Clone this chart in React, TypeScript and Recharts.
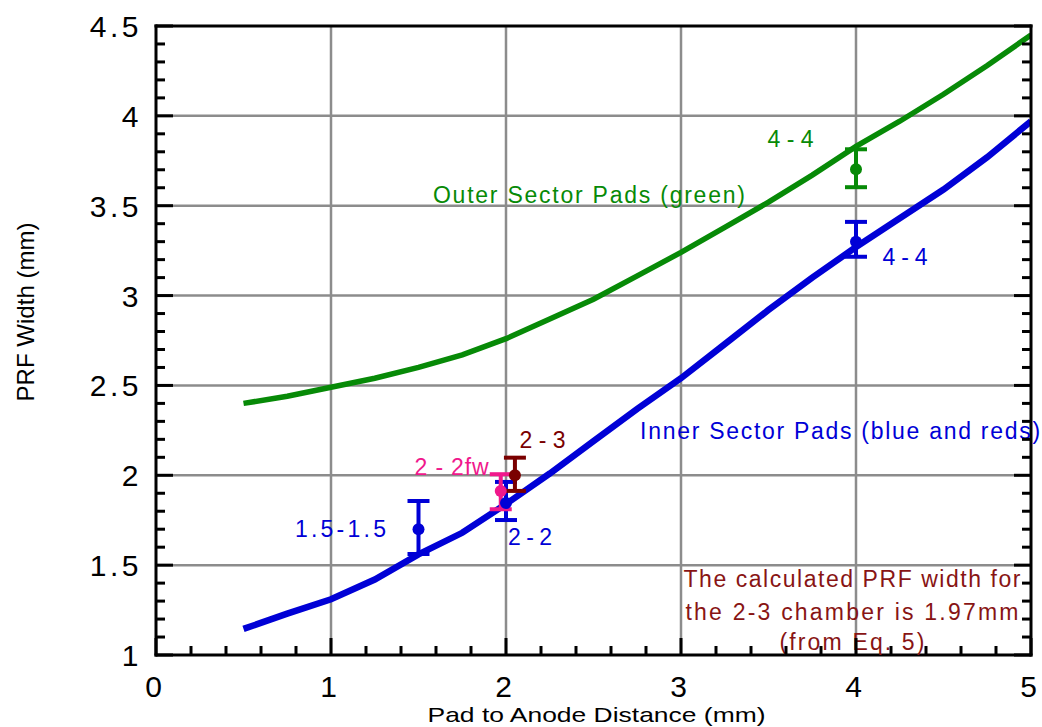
import React from 'react';
import {
  ComposedChart,
  Line,
  Scatter,
  ErrorBar,
  XAxis,
  YAxis,
  ReferenceLine,
  ReferenceDot,
  Label,
} from 'recharts';

// ---------- data ----------
const outerX = [0.5, 0.75, 1, 1.25, 1.5, 1.75, 2, 2.25, 2.5, 2.75, 3, 3.25, 3.5, 3.75, 4, 4.25, 4.5, 4.75, 5];
const outerY = [2.4, 2.44, 2.49, 2.54, 2.6, 2.67, 2.76, 2.87, 2.98, 3.11, 3.24, 3.38, 3.52, 3.67, 3.83, 3.97, 4.12, 4.28, 4.45];

const innerX = [0.5, 0.75, 1, 1.25, 1.5, 1.75, 2, 2.25, 2.5, 2.75, 3, 3.25, 3.5, 3.75, 4, 4.25, 4.5, 4.75, 5];
const innerY = [1.145, 1.23, 1.31, 1.42, 1.56, 1.68, 1.84, 2.01, 2.19, 2.37, 2.54, 2.73, 2.92, 3.1, 3.27, 3.43, 3.59, 3.77, 3.97];

const blueX = [1.5, 2.0, 4.0];
const blueY = [1.7, 1.846, 3.3];
const blueLow = [1.562, 1.751, 3.216];
const blueHigh = [1.857, 1.963, 3.41];

const greenX = [4.0];
const greenY = [3.703];
const greenLow = [3.603];
const greenHigh = [3.814];

const pinkX = [1.97];
const pinkY = [1.913];
const pinkLow = [1.811];
const pinkHigh = [2.006];

const redX = [2.051];
const redY = [2.0];
const redLow = [1.913];
const redHigh = [2.098];

const xMajor = [0, 1, 2, 3, 4, 5];
const xMajorLabels = ['0', '1', '2', '3', '4', '5'];
const xMinor = [0, 0.2, 0.4, 0.6, 0.8, 1, 1.2, 1.4, 1.6, 1.8, 2, 2.2, 2.4, 2.6, 2.8, 3, 3.2, 3.4, 3.6, 3.8, 4, 4.2, 4.4, 4.6, 4.8, 5];
const yMajor = [1, 1.5, 2, 2.5, 3, 3.5, 4, 4.5];
const yMajorLabels = ['1', '1.5', '2', '2.5', '3', '3.5', '4', '4.5'];
const yMinor = [1, 1.1, 1.2, 1.3, 1.4, 1.5, 1.6, 1.7, 1.8, 1.9, 2, 2.1, 2.2, 2.3, 2.4, 2.5, 2.6, 2.7, 2.8, 2.9, 3, 3.1, 3.2, 3.3, 3.4, 3.5, 3.6, 3.7, 3.8, 3.9, 4, 4.1, 4.2, 4.3, 4.4, 4.5];
const xGrid = [1, 2, 3, 4];
const yGrid = [1.5, 2, 2.5, 3, 3.5, 4];

const annText = [
  'Outer Sector Pads (green)',
  '4 - 4',
  '4 - 4',
  'Inner Sector Pads (blue and reds)',
  '2 - 3',
  '2 - 2fw',
  '1.5-1.5',
  '2 - 2',
  'The calculated PRF width for',
  'the 2-3 chamber is 1.97mm',
  '(from Eq. 5)',
];
const annX = [2.474, 3.626, 4.28, 3.909, 2.209, 1.689, 1.054, 2.137, 3.977, 3.977, 3.977];
const annY = [3.515, 3.827, 3.17, 2.202, 2.152, 2.002, 1.657, 1.612, 1.378, 1.195, 1.028];

// ---------- styles ----------
const FONT = '"Liberation Sans", Arial, Helvetica, sans-serif';
const NARROW = '"Liberation Sans Narrow", "Arial Narrow", "Liberation Sans", Arial, sans-serif';
const GREEN = '#078a07';
const BLUE = '#0000d6';
const PINK = '#f0188c';
const DARKRED = '#7a0000';
const MAROON = '#881414';
const GRID = '#8c8c8c';

const annColor = [GREEN, GREEN, BLUE, BLUE, DARKRED, PINK, BLUE, BLUE, MAROON, MAROON, MAROON];
const annWidth = [312, 46, 45, 400, 46, 74, 91, 44, 337, 333, 145];

const lineData = (xs: number[], ys: number[]) => xs.map((x, i) => ({ x, y: ys[i] }));
const pointData = (xs: number[], ys: number[], lo: number[], hi: number[]) =>
  xs.map((x, i) => ({ x, y: ys[i], err: [ys[i] - lo[i], hi[i] - ys[i]] }));

const outerData = lineData(outerX, outerY);
const innerData = lineData(innerX, innerY);
const bluePts = pointData(blueX, blueY, blueLow, blueHigh);
const greenPts = pointData(greenX, greenY, greenLow, greenHigh);
const pinkPts = pointData(pinkX, pinkY, pinkLow, pinkHigh);
const redPts = pointData(redX, redY, redLow, redHigh);

const isIn = (arr: number[], v: number) => arr.findIndex((m) => Math.abs(m - v) < 1e-6);

const makeTick = (side: 'bottom' | 'top' | 'left' | 'right') => (props: any) => {
  const { x, y, payload } = props;
  const v = payload.value;
  const majors = side === 'bottom' || side === 'top' ? xMajor : yMajor;
  const mi = isIn(majors, v);
  const len = mi >= 0 ? 17 : 9;
  let x2 = x;
  let y2 = y;
  if (side === 'bottom') y2 = y - len;
  if (side === 'top') y2 = y + len;
  if (side === 'left') x2 = x + len;
  if (side === 'right') x2 = x - len;
  let label: React.ReactNode = null;
  if (mi >= 0 && side === 'bottom') {
    label = (
      <text x={x - 1} y={y + 42} textAnchor="middle" fontFamily={FONT} fontSize={30} letterSpacing={3} fill="#000">
        {xMajorLabels[mi]}
      </text>
    );
  }
  if (mi >= 0 && side === 'left') {
    label = (
      <text x={x - 14} y={y + 11} textAnchor="end" fontFamily={FONT} fontSize={30} letterSpacing={3.5} fill="#000">
        {yMajorLabels[mi]}
      </text>
    );
  }
  return (
    <g>
      <line x1={x} y1={y} x2={x2} y2={y2} stroke="#000" strokeWidth={3} />
      {label}
    </g>
  );
};

const dotShape = (color: string) => (props: any) => <circle cx={props.cx} cy={props.cy} r={6} fill={color} />;

const axisLineStyle = { stroke: '#000', strokeWidth: 3, strokeLinecap: 'square' as const };

export default function App() {
  return (
    <div style={{ position: 'absolute', left: 0, top: 0, background: '#fff' }}>
      <ComposedChart
        width={1042}
        height={727}
        margin={{ top: 25, right: 10, bottom: 71, left: 155 }}
        style={{ fontFamily: FONT }}
      >
        <XAxis
          xAxisId={0}
          type="number"
          dataKey="x"
          domain={[0, 5]}
          ticks={xMinor}
          interval={0}
          height={1}
          tickSize={0}
          tickMargin={0}
          axisLine={axisLineStyle}
          tickLine={false}
          tick={makeTick('bottom')}
          allowDataOverflow
        >
          <Label
            content={(p: any) => {
              const vb = p.viewBox || { x: 156, y: 655, width: 875 };
              return (
                <text
                  x={vb.x + vb.width / 2 + 3}
                  y={vb.y + 67}
                  textAnchor="middle"
                  fontFamily={NARROW}
                  fontSize={21}
                  textLength={338}
                  lengthAdjust="spacingAndGlyphs"
                  fill="#000"
                >
                  Pad to Anode Distance (mm)
                </text>
              );
            }}
          />
        </XAxis>
        <XAxis
          xAxisId="top"
          orientation="top"
          type="number"
          domain={[0, 5]}
          ticks={xMinor}
          interval={0}
          height={1}
          tickSize={0}
          tickMargin={0}
          axisLine={axisLineStyle}
          tickLine={false}
          tick={makeTick('top')}
          allowDataOverflow
        />
        <YAxis
          yAxisId={0}
          type="number"
          dataKey="y"
          domain={[1, 4.5]}
          ticks={yMinor}
          interval={0}
          width={1}
          tickSize={0}
          tickMargin={0}
          axisLine={axisLineStyle}
          tickLine={false}
          tick={makeTick('left')}
          allowDataOverflow
        >
          <Label
            content={(p: any) => {
              const vb = p.viewBox || { x: 156, y: 26, height: 629 };
              const cy = vb.y + 286;
              return (
                <text
                  x={34}
                  y={cy}
                  transform={`rotate(-90 34 ${cy})`}
                  textAnchor="middle"
                  fontFamily={NARROW}
                  fontSize={24}
                  textLength={179}
                  lengthAdjust="spacingAndGlyphs"
                  fill="#000"
                >
                  PRF Width (mm)
                </text>
              );
            }}
          />
        </YAxis>
        <YAxis
          yAxisId="right"
          orientation="right"
          type="number"
          domain={[1, 4.5]}
          ticks={yMinor}
          interval={0}
          width={1}
          tickSize={0}
          tickMargin={0}
          axisLine={axisLineStyle}
          tickLine={false}
          tick={makeTick('right')}
          allowDataOverflow
        />

        {xGrid.map((v) => (
          <ReferenceLine key={`gx${v}`} x={v} stroke={GRID} strokeWidth={2.5} />
        ))}
        {yGrid.map((v) => (
          <ReferenceLine key={`gy${v}`} y={v} stroke={GRID} strokeWidth={2.5} />
        ))}

        <Line
          data={outerData}
          dataKey="y"
          type="linear"
          stroke={GREEN}
          strokeWidth={5.5}
          dot={false}
          activeDot={false}
          isAnimationActive={false}
        />
        <Line
          data={innerData}
          dataKey="y"
          type="linear"
          stroke={BLUE}
          strokeWidth={6.5}
          dot={false}
          activeDot={false}
          isAnimationActive={false}
        />

        <Scatter data={greenPts} dataKey="y" fill={GREEN} shape={dotShape(GREEN)} isAnimationActive={false}>
          <ErrorBar dataKey="err" direction="y" width={11} strokeWidth={4} stroke={GREEN} />
        </Scatter>
        <Scatter data={bluePts} dataKey="y" fill={BLUE} shape={dotShape(BLUE)} isAnimationActive={false}>
          <ErrorBar dataKey="err" direction="y" width={11} strokeWidth={4} stroke={BLUE} />
        </Scatter>
        <Scatter data={pinkPts} dataKey="y" fill={PINK} shape={dotShape(PINK)} isAnimationActive={false}>
          <ErrorBar dataKey="err" direction="y" width={11} strokeWidth={4} stroke={PINK} />
        </Scatter>
        <Scatter data={redPts} dataKey="y" fill={DARKRED} shape={dotShape(DARKRED)} isAnimationActive={false}>
          <ErrorBar dataKey="err" direction="y" width={11} strokeWidth={4} stroke={DARKRED} />
        </Scatter>

        {annText.map((t, i) => (
          <ReferenceDot
            key={`ann${i}`}
            x={annX[i]}
            y={annY[i]}
            r={0}
            ifOverflow="visible"
            shape={(p: any) => (
              <text
                x={p.cx}
                y={p.cy}
                textAnchor="middle"
                fontFamily={FONT}
                fontSize={23}
                textLength={annWidth[i]}
                lengthAdjust="spacing"
                fill={annColor[i]}
              >
                {t}
              </text>
            )}
          />
        ))}
      </ComposedChart>
    </div>
  );
}
